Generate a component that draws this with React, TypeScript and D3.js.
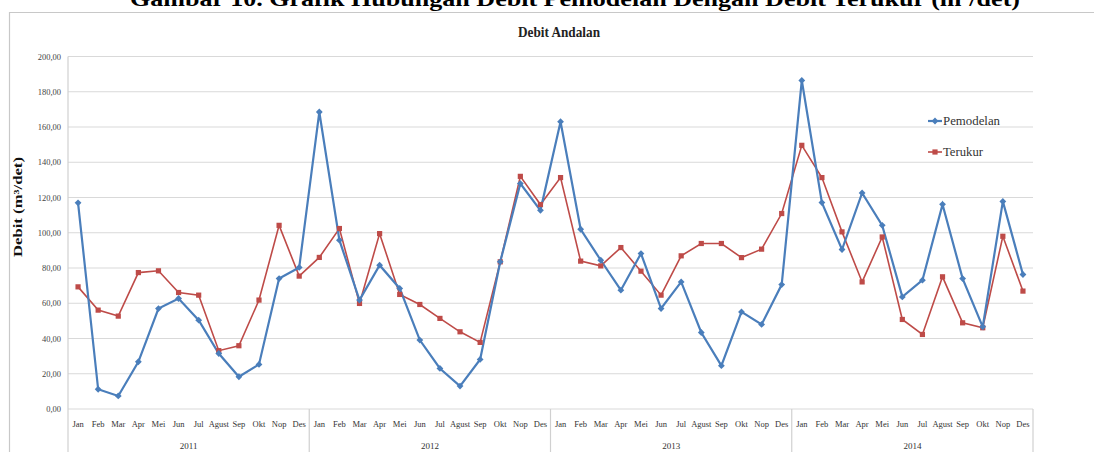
import React from "react";
import * as d3 from "d3";

const months = ["Jan","Feb","Mar","Apr","Mei","Jun","Jul","Agust","Sep","Okt","Nop","Des"];
const years = ["2011","2012","2013","2014"];
const yTicks = [0,20,40,60,80,100,120,140,160,180,200];

const pemodelan = [
  117, 11.2, 7.4, 26.8, 57.0, 62.7, 50.4, 31.5, 18.3, 25.3, 74.0, 80.3,
  168.5, 95.8, 61.8, 81.6, 68.4, 39.1, 23.0, 13.0, 28.1, 83.5, 127.9, 112.7,
  163.0, 102.0, 84.4, 67.4, 88.2, 57.0, 72.1, 43.4, 24.6, 55.1, 48.0, 70.6,
  186.4, 117.1, 90.5, 122.6, 104.2, 63.6, 73.1, 116.1, 74.0, 46.6, 117.8, 76.3
];
const terukur = [
  69.3, 56.1, 52.7, 77.4, 78.4, 66.1, 64.6, 33.1, 35.9, 61.8, 104.2, 75.4,
  86.0, 102.4, 59.9, 99.5, 65.0, 59.3, 51.4, 43.8, 37.8, 83.5, 132.0, 116.0,
  131.3, 83.9, 81.2, 91.6, 78.2, 64.6, 86.9, 93.9, 93.9, 85.9, 90.7, 110.9,
  149.6, 131.3, 100.5, 72.1, 97.6, 50.8, 42.3, 75.0, 48.9, 46.1, 98.0, 66.9
];

const W = 1094, H = 452;
const left = 68, right = 1033, top = 56.5, bottom = 409;
const font = "'Liberation Serif', 'Times New Roman', serif";
const BLUE = "#4A7EBB";
const RED = "#BE4B48";

export default function App() {
  const idx = d3.range(pemodelan.length);
  const x = d3.scaleBand<number>().domain(idx).range([left, right]);
  const cx = (i: number) => (x(i) as number) + x.bandwidth() / 2;
  const y = d3.scaleLinear().domain([0, 200]).range([bottom, top]);
  const line = d3.line<number>().x((_, i) => cx(i)).y((d) => y(d));
  const yearW = x.bandwidth() * 12;

  const diamond = (px: number, py: number, r: number) =>
    `M${px},${py - r}L${px + r},${py}L${px},${py + r}L${px - r},${py}Z`;

  return (
    <svg width={W} height={H} style={{ position: "absolute", left: 0, top: 0, display: "block" }}>
      <rect x={0} y={0} width={W} height={H} fill="#fff" />
      <text x={130} y={6} fontFamily={font} fontWeight="bold" fontSize={22} textLength={890} lengthAdjust="spacingAndGlyphs" fill="#000">
        Gambar 10. Grafik Hubungan Debit Pemodelan Dengan Debit Terukur (m³/det)
      </text>
      {/* chart border */}
      <path d={`M9.5,${H}V12.5H${W}`} fill="none" stroke="#c8c8c8" strokeWidth={1.2} />
      <text x={559} y={37} textAnchor="middle" fontFamily={font} fontWeight="bold" fontSize={15} textLength={82} lengthAdjust="spacingAndGlyphs" fill="#222">
        Debit Andalan
      </text>
      {/* gridlines */}
      {yTicks.map((t) => (
        <g key={t}>
          <line x1={left} x2={right} y1={y(t)} y2={y(t)} stroke="#d9d9d9" strokeWidth={1.2} />
          <text x={61} y={y(t) + 3} textAnchor="end" fontFamily={font} fontSize={8.5} fill="#444">
            {d3.format(".2f")(t).replace(".", ",")}
          </text>
        </g>
      ))}
      <line x1={left} x2={left} y1={top} y2={H} stroke="#d0d0d0" strokeWidth={1.2} />
      {years.map((yr, k) => (
        <g key={yr}>
          <line x1={left + (k + 1) * yearW} x2={left + (k + 1) * yearW} y1={bottom} y2={H} stroke="#d0d0d0" strokeWidth={1.2} />
          <text x={left + k * yearW + yearW / 2} y={449} textAnchor="middle" fontFamily={font} fontSize={9} fill="#333">
            {yr}
          </text>
        </g>
      ))}
      {idx.map((i) => (
        <text key={i} x={cx(i)} y={427} textAnchor="middle" fontFamily={font} fontSize={8.5} fill="#333">
          {months[i % 12]}
        </text>
      ))}
      <text transform={`translate(22,207) rotate(-90)`} textAnchor="middle" fontFamily={font} fontWeight="bold" fontSize={12} textLength={100} lengthAdjust="spacingAndGlyphs" fill="#111">
        Debit (m³/det)
      </text>
      {/* series */}
      <path d={line(terukur) as string} fill="none" stroke={RED} strokeWidth={1.6} />
      <path d={line(pemodelan) as string} fill="none" stroke={BLUE} strokeWidth={2.2} />
      {terukur.map((v, i) => (
        <rect key={"t" + i} x={cx(i) - 2.6} y={y(v) - 2.6} width={5.2} height={5.2} fill={RED} />
      ))}
      {pemodelan.map((v, i) => (
        <path key={"p" + i} d={diamond(cx(i), y(v), 3.4)} fill={BLUE} />
      ))}
      {/* legend */}
      <line x1={928} x2={942} y1={121} y2={121} stroke={BLUE} strokeWidth={2.2} />
      <path d={diamond(935, 121, 3.4)} fill={BLUE} />
      <text x={943} y={125} fontFamily={font} fontSize={12} textLength={57} lengthAdjust="spacingAndGlyphs" fill="#333">Pemodelan</text>
      <line x1={928} x2={942} y1={152} y2={152} stroke={RED} strokeWidth={1.6} />
      <rect x={932.4} y={149.4} width={5.2} height={5.2} fill={RED} />
      <text x={943} y={156} fontFamily={font} fontSize={12} textLength={40} lengthAdjust="spacingAndGlyphs" fill="#333">Terukur</text>
    </svg>
  );
}
